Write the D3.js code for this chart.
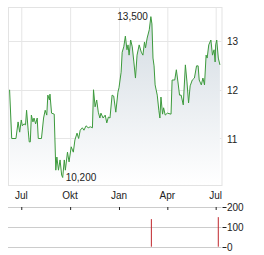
<!DOCTYPE html>
<html>
<head>
<meta charset="utf-8">
<script src="https://cdn.jsdelivr.net/npm/d3@7"></script>
<style>
  body { margin: 0; background: #fff; }
  text { font-family: Arial, "Liberation Sans", sans-serif; fill: #222; }
</style>
</head>
<body>
<div id="chart"></div>
<script>
// price series (date, close)
const priceDates = ["2023-06-09","2023-06-13","2023-06-21","2023-06-25","2023-06-28","2023-07-01","2023-07-03","2023-07-06","2023-07-09","2023-07-11",
  "2023-07-14","2023-07-16","2023-07-18","2023-07-20","2023-07-23","2023-07-25","2023-07-28","2023-07-31","2023-08-02","2023-08-08",
  "2023-08-12","2023-08-15","2023-08-18","2023-08-20","2023-08-23","2023-08-24","2023-08-27","2023-09-01","2023-09-04","2023-09-06",
  "2023-09-09","2023-09-12","2023-09-15","2023-09-17","2023-09-20","2023-09-22","2023-09-26","2023-09-29","2023-10-03","2023-10-07",
  "2023-10-10","2023-10-14","2023-10-17","2023-10-20","2023-10-24","2023-10-27","2023-10-31","2023-11-04","2023-11-08","2023-11-12",
  "2023-11-14","2023-11-17","2023-11-20","2023-11-23","2023-11-26","2023-11-28","2023-12-02","2023-12-06","2023-12-09","2023-12-12",
  "2023-12-15","2023-12-19","2023-12-22","2023-12-26","2023-12-30","2024-01-01","2024-01-05","2024-01-07","2024-01-10","2024-01-13",
  "2024-01-16","2024-01-18","2024-01-20","2024-01-23","2024-01-26","2024-01-29","2024-02-01","2024-02-04","2024-02-08","2024-02-12",
  "2024-02-15","2024-02-18","2024-02-20","2024-02-23","2024-02-27","2024-03-01","2024-03-03","2024-03-05","2024-03-07","2024-03-09",
  "2024-03-13","2024-03-16","2024-03-18","2024-03-20","2024-03-23","2024-03-25","2024-03-28","2024-04-01","2024-04-08","2024-04-10",
  "2024-04-15","2024-04-18","2024-04-21","2024-04-24","2024-04-27","2024-05-01","2024-05-05","2024-05-08","2024-05-11","2024-05-14",
  "2024-05-18","2024-05-22","2024-05-26","2024-05-29","2024-05-31","2024-06-04","2024-06-07","2024-06-10","2024-06-13","2024-06-15",
  "2024-06-18","2024-06-22","2024-06-25","2024-06-28","2024-06-30","2024-07-01","2024-07-03","2024-07-06","2024-07-09"];
const priceValues = [12.0,11.0,11.0,11.34,11.13,11.38,11.26,11.30,11.28,11.58,
  11.17,10.93,10.93,11.48,11.34,11.42,11.30,11.42,11.0,11.0,
  11.42,11.58,11.48,11.89,11.79,11.91,11.52,11.50,10.35,10.62,
  10.35,10.56,10.25,10.20,10.56,10.35,10.72,10.52,10.83,10.72,
  10.97,11.11,11.0,11.17,11.22,11.17,11.26,11.22,11.24,11.22,
  12.0,11.65,11.79,11.54,11.42,11.52,11.42,11.48,11.32,11.44,
  11.42,11.89,11.87,11.54,11.95,12.04,12.36,12.77,12.88,13.10,
  12.82,12.92,12.71,13.02,12.88,12.57,12.24,12.71,12.92,12.77,
  12.71,12.98,12.86,13.06,13.23,13.50,13.35,12.65,12.49,12.10,
  11.89,11.58,11.42,11.85,11.50,11.63,11.48,11.52,11.50,12.20,
  12.20,12.41,12.16,11.89,11.89,11.69,12.51,12.16,11.73,12.08,
  12.20,12.24,12.49,12.49,12.20,12.10,12.24,12.10,12.71,12.65,
  12.92,13.02,12.71,12.82,12.57,12.92,13.02,12.65,12.51];

// volume bars
const volDates = ["2024-03-01","2024-07-05"];
const volValues = [140, 150];

const xTicks = ["2023-07-01","2023-10-01","2024-01-01","2024-04-01","2024-07-01"];
const xTickLabels = ["Jul","Okt","Jan","Apr","Jul"];
const yTicks = [11, 12, 13];
const volTicks = [0, 100, 200];

const parse = d3.timeParse("%Y-%m-%d");
const data = priceDates.map((d, i) => ({date: parse(d), value: priceValues[i]}));

const W = 264, H = 255;
const pLeft = 8, pRight = 221.5, pTop = 7, pBottom = 185;
const volTop = 207.3, volBottom = 246.7;

const svg = d3.select("#chart").append("svg")
  .attr("width", W).attr("height", H);

const x = d3.scaleTime()
  .domain([parse("2023-06-06"), parse("2024-07-12")])
  .range([pLeft, pRight]);
const y = d3.scaleLinear().domain([10.2, 13.5])
  .range([41 + 2.8 * 48.75, 41 - 0.5 * 48.75]);
const yv = d3.scaleLinear().domain([0, 200]).range([volBottom, volTop]);

// gradient for area
const grad = svg.append("defs").append("linearGradient")
  .attr("id", "fill").attr("x1", 0).attr("y1", 0).attr("x2", 0).attr("y2", 1);
grad.append("stop").attr("offset", "0%").attr("stop-color", "#d3dbe2");
grad.append("stop").attr("offset", "100%").attr("stop-color", "#ffffff");

// grid
svg.append("g").selectAll("line").data(xTicks).join("line")
  .attr("x1", d => x(parse(d)) + 0.5).attr("x2", d => x(parse(d)) + 0.5)
  .attr("y1", pTop).attr("y2", pBottom)
  .attr("stroke", "#e6e6e6");
svg.append("g").selectAll("line").data(yTicks).join("line")
  .attr("x1", pLeft).attr("x2", pRight)
  .attr("y1", d => Math.round(y(d)) + 0.5).attr("y2", d => Math.round(y(d)) + 0.5)
  .attr("stroke", "#e6e6e6");

// area + line
const area = d3.area().x(d => x(d.date)).y0(pBottom).y1(d => y(d.value));
const line = d3.line().x(d => x(d.date)).y(d => y(d.value));
svg.append("path").datum(data).attr("d", area)
  .attr("fill", "url(#fill)").attr("stroke", "none");
svg.append("path").datum(data).attr("d", line)
  .attr("fill", "none").attr("stroke", "#3c9a3c").attr("stroke-width", 1);

// frame
svg.append("rect")
  .attr("x", pLeft + 0.5).attr("y", pTop + 0.5)
  .attr("width", pRight - pLeft).attr("height", pBottom - pTop)
  .attr("fill", "none").attr("stroke", "#e3e3e3");

// right axis labels
svg.append("g").selectAll("text").data(yTicks).join("text")
  .attr("x", 227).attr("y", d => y(d) + 4)
  .attr("font-size", 10).text(d => d);

// x labels
svg.append("g").selectAll("text").data(xTicks).join("text")
  .attr("x", d => x(parse(d))).attr("y", 199)
  .attr("text-anchor", "middle").attr("font-size", 10)
  .text((d, i) => xTickLabels[i]);

// high / low annotations
const hi = data.reduce((a, b) => b.value > a.value ? b : a);
const lo = data.reduce((a, b) => b.value < a.value ? b : a);
svg.append("text").attr("x", x(hi.date) - 3).attr("y", y(hi.value) + 3)
  .attr("text-anchor", "end").attr("font-size", 10)
  .text(d3.format(".3f")(hi.value).replace(".", ","));
svg.append("text").attr("x", x(lo.date) + 3).attr("y", y(lo.value) + 3)
  .attr("font-size", 10)
  .text(d3.format(".3f")(lo.value).replace(".", ","));

// volume panel
svg.append("g").selectAll("line").data(volTicks).join("line")
  .attr("x1", pLeft).attr("x2", pRight)
  .attr("y1", d => Math.round(yv(d)) + 0.5).attr("y2", d => Math.round(yv(d)) + 0.5)
  .attr("stroke", "#cccccc");
svg.append("g").selectAll("line").data(xTicks).join("line")
  .attr("x1", d => x(parse(d)) + 0.5).attr("x2", d => x(parse(d)) + 0.5)
  .attr("y1", Math.round(yv(200))).attr("y2", Math.round(yv(200)) + 3)
  .attr("stroke", "#222");
svg.append("g").selectAll("line").data(volTicks).join("line")
  .attr("x1", pRight + 1).attr("x2", pRight + 5)
  .attr("y1", d => Math.round(yv(d)) + 0.5).attr("y2", d => Math.round(yv(d)) + 0.5)
  .attr("stroke", "#222");
svg.append("g").selectAll("text").data(volTicks).join("text")
  .attr("x", 227).attr("y", d => yv(d) + 4)
  .attr("font-size", 10).text(d => d);
svg.append("g").selectAll("line").data(volDates).join("line")
  .attr("x1", d => x(parse(d)) + 0.5).attr("x2", d => x(parse(d)) + 0.5)
  .attr("y1", volBottom).attr("y2", (d, i) => yv(volValues[i]))
  .attr("stroke", "#c0262c").attr("stroke-width", 1);
</script>
</body>
</html>
